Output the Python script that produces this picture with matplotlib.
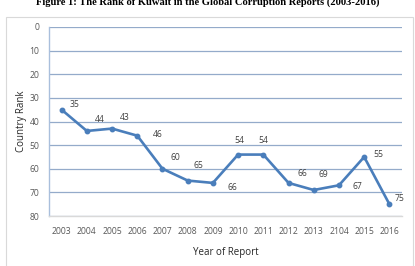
import matplotlib
matplotlib.use("Agg")
import matplotlib.pyplot as plt
from matplotlib.patches import Rectangle

years = ["2003", "2004", "2005", "2006", "2007", "2008", "2009",
         "2010", "2011", "2012", "2013", "2104", "2015", "2016"]
rank = [35, 44, 43, 46, 60, 65, 66, 54, 54, 66, 69, 67, 55, 75]
# label offsets in points
offsets = [(9, 4), (9, 8), (9, 8), (15, 1), (9, 8), (8, 11), (14, -3),
           (1, 10), (0, 10), (10, 7), (7, 11), (13, -1), (10, 2), (7, 4)]

plt.rcParams['font.family'] = ['Open Sans', 'DejaVu Sans']

fig = plt.figure(figsize=(4.15, 2.66), dpi=100)
fig.patches.append(Rectangle((6 / 415, -0.01), 407 / 415, 1 - 17 / 266 + 0.01,
                             transform=fig.transFigure, fill=False,
                             edgecolor='#d9d9d9', linewidth=0.8))
fig.text(0.5, 0.99, "Figure 1: The Rank of Kuwait in the Global Corruption Reports (2003-2016)",
         ha='center', va='center', fontsize=7.6, fontweight='bold',
         family='Liberation Serif', color='#000000')

ax = fig.add_axes([49 / 415, 1 - 216 / 266, 353 / 415, 189 / 266])
x = list(range(len(years)))
ax.plot(x, rank, color='#4a7ebb', linewidth=1.9, marker='o', markersize=3.2)

for xi, yi, (dx, dy) in zip(x, rank, offsets):
    ax.annotate(str(yi), (xi, yi), xytext=(dx, dy), textcoords='offset points',
                ha='center', va='center', fontsize=6.2, color='#404040')

ax.set_ylim(80, 0)
ax.set_xlim(-0.5, len(years) - 0.5)
ax.set_yticks(range(0, 81, 10))
ax.set_xticks(x)
ax.set_xticklabels(years)
ax.tick_params(axis='both', length=0, labelsize=6.2, colors='#595959')
ax.tick_params(axis='y', pad=7)
ax.tick_params(axis='x', pad=8)
ax.grid(axis='y', color='#94abca', linewidth=0.9)
ax.set_axisbelow(True)
for s in ['top', 'right']:
    ax.spines[s].set_visible(False)
ax.spines['left'].set_color('#a9bfdc')
ax.spines['left'].set_linewidth(1.0)
ax.spines['bottom'].set_color('#d9d9d9')
ax.spines['bottom'].set_linewidth(1.0)

ax.set_xlabel('Year of Report', fontsize=7, color='#262626', labelpad=8)
ax.set_ylabel('Country Rank', fontsize=7, color='#262626', labelpad=2)

fig.savefig("out.png", dpi=100)
